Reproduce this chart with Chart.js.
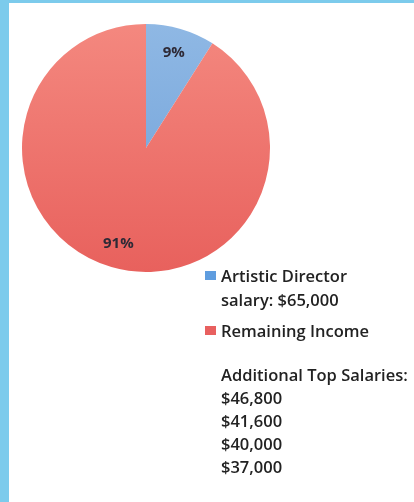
<!DOCTYPE html>
<html>
<head>
<meta charset="utf-8">
<script src="https://cdn.jsdelivr.net/npm/chart.js@4.4.0/dist/chart.umd.min.js"></script>
<style>
  html, body { margin: 0; padding: 0; background: #fff; }
  #wrap { position: relative; width: 414px; height: 502px; overflow: hidden; }
  #wrap canvas { position: absolute; left: 0; top: 0; }
  .edge { position: absolute; background: #7ccbec; }
</style>
</head>
<body>
<div id="wrap">
  <canvas id="pie"></canvas>
  <div class="edge" style="left:0;top:0;width:9px;height:502px"></div>
  <div class="edge" style="left:0;top:0;width:414px;height:3px"></div>
</div>
<script>
// slices
const labels = [['Artistic Director', 'salary: $65,000'], ['Remaining Income']];
const shares = [9, 91];

// extra note under the legend
const noteTitle = 'Additional Top Salaries:';
const noteSalaries = ['$46,800', '$41,600', '$40,000', '$37,000'];

// colours (top / bottom of the shading, legend key)
const topColors = ['#8fb8e4', '#f4887f'];
const bottomColors = ['#6d9fd8', '#e8615d'];
const keyColors = ['#5f9ddf', '#e8605f'];

const font = '"Open Sans", "Liberation Sans", sans-serif';
const textColor = '#222';

const overlay = {
  id: 'overlay',
  afterDatasetsDraw(chart) {
    const ctx = chart.ctx;
    const meta = chart.getDatasetMeta(0);
    ctx.save();

    // percentage labels
    ctx.font = 'bold 15px ' + font;
    ctx.fillStyle = '#2e2a36';
    ctx.textAlign = 'center';
    ctx.textBaseline = 'middle';
    meta.data.forEach((arc, i) => {
      const p = arc.getProps(['x', 'y', 'startAngle', 'endAngle', 'outerRadius']);
      const mid = (p.startAngle + p.endAngle) / 2;
      const r = p.outerRadius * 0.8;
      ctx.fillText(shares[i] + '%', p.x + Math.cos(mid) * r, p.y + Math.sin(mid) * r);
    });

    // legend
    ctx.font = '600 16.5px ' + font;
    ctx.textAlign = 'left';
    ctx.textBaseline = 'alphabetic';
    const keyX = 205, textX = 221, lineH = 24;
    let y = 282;
    labels.forEach((lines, i) => {
      ctx.fillStyle = keyColors[i];
      ctx.fillRect(keyX, y - 11, 11, 9);
      ctx.fillStyle = textColor;
      lines.forEach((t, j) => ctx.fillText(t, textX, y + j * lineH));
      y += (lines.length - 1) * lineH + 31;
    });

    // note
    y += 13;
    ctx.fillText(noteTitle, textX, y);
    noteSalaries.forEach((s, i) => ctx.fillText(s, textX, y + (i + 1) * 23));

    ctx.restore();
  }
};

new Chart(document.getElementById('pie'), {
  type: 'pie',
  data: {
    labels: labels,
    datasets: [{
      data: shares,
      borderWidth: 0,
      backgroundColor: (c) => {
        const area = c.chart.chartArea;
        if (!area) return bottomColors[c.dataIndex];
        const g = c.chart.ctx.createLinearGradient(0, area.top, 0, area.bottom);
        g.addColorStop(0, topColors[c.dataIndex]);
        g.addColorStop(1, bottomColors[c.dataIndex]);
        return g;
      }
    }]
  },
  options: {
    responsive: true,
    maintainAspectRatio: false,
    animation: false,
    layout: { padding: { left: 22, right: 144, top: 24, bottom: 230 } },
    plugins: {
      legend: { display: false },
      tooltip: { enabled: false }
    }
  },
  plugins: [overlay]
});
</script>
</body>
</html>
